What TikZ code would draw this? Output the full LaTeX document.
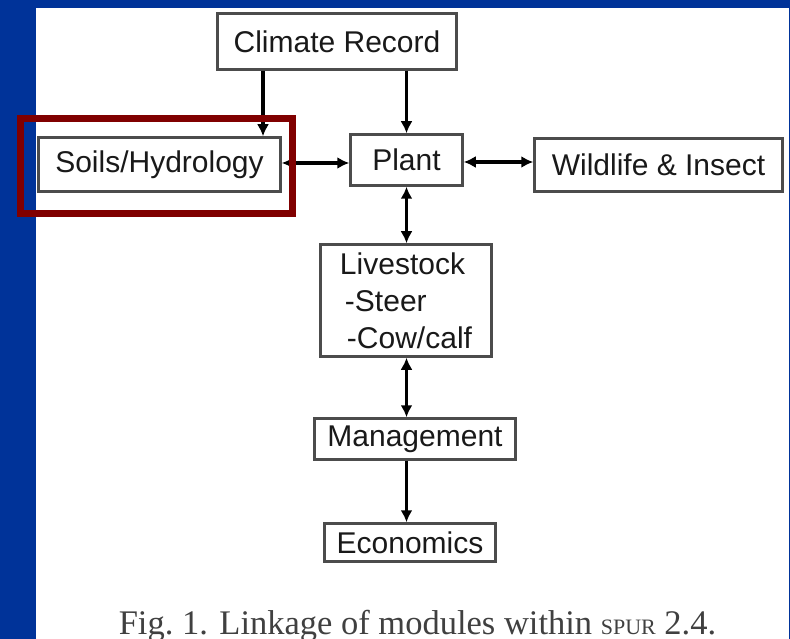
\documentclass[tikz,border=0pt]{standalone}
\usepackage{fontspec}
\setmainfont{Liberation Serif}
\newfontfamily\boxfont{Liberation Sans}
\usetikzlibrary{arrows.meta}

\definecolor{slideblue}{RGB}{0,51,153}
\definecolor{markred}{RGB}{128,0,0}

\begin{document}
\begin{tikzpicture}[
  x=1pt, y=-1pt,
  font=\boxfont\fontsize{30}{37}\selectfont,
  module/.style={rectangle, draw=black!70, line width=2.5pt, inner sep=0pt,
                 align=center, text=black!90},
  link/.style={line width=3.5pt, -{Latex[length=12pt,width=12pt]}},
  biarr/.style={link, {Latex[length=12pt,width=12pt]}-{Latex[length=12pt,width=12pt]}}
]
\useasboundingbox (0,0) rectangle (790,639);
\clip (0,0) rectangle (790,639);
% slide background and page
\fill[slideblue] (0,0) rectangle (790,639);
\fill[white] (36,8) rectangle (789,650);
% modules
\node[module, minimum width=239pt, minimum height=56pt]  (clim)  at (337,41.5)  {Climate Record};
\node[module, minimum width=242pt, minimum height=54pt]  (soils) at (159.5,164.5) {Soils/Hydrology};
\node[module, minimum width=112pt, minimum height=51pt]  (plant) at (406.5,160) {Plant};
\node[module, minimum width=248pt, minimum height=53pt]  (wild)  at (658.5,165) {Wildlife \& Insect};
\node[module, minimum width=171pt, minimum height=112pt, align=left] (live) at (406,300.5)
  {Livestock\\\hspace*{5pt}-Steer\\\hspace*{7pt}-Cow/calf};
\node[module, minimum width=201pt, minimum height=41pt]  (mgmt)  at (415,439)   {Management};
\node[module, minimum width=171pt, minimum height=38pt]  (econ)  at (410,542.5) {Economics};
% links
\draw[link]  (clim.south -| 263,0) -- (soils.north -| 263,0);
\draw[link]  (clim.south -| plant) -- (plant.north);
\draw[biarr] (soils.east |- 0,163) -- (plant.west |- 0,163);
\draw[biarr] (plant.east |- 0,162) -- (wild.west |- 0,162);
\draw[biarr] (plant.south) -- (plant.south |- live.north);
\draw[biarr] (live.south -| plant) -- (mgmt.north -| plant);
\draw[link]  (mgmt.south -| plant) -- (econ.north -| plant);
% highlight
\draw[markred, line width=7pt] (20.5,118.5) rectangle (292.5,213.5);
% caption
\node[anchor=base, text=black!75, font=\fontsize{34.5}{34.5}\selectfont] (cap) at (417.5,634)
  {Fig.~1. Linkage of modules within {\fontsize{22}{22}\selectfont SPUR} 2.4.};
\end{tikzpicture}
\end{document}
